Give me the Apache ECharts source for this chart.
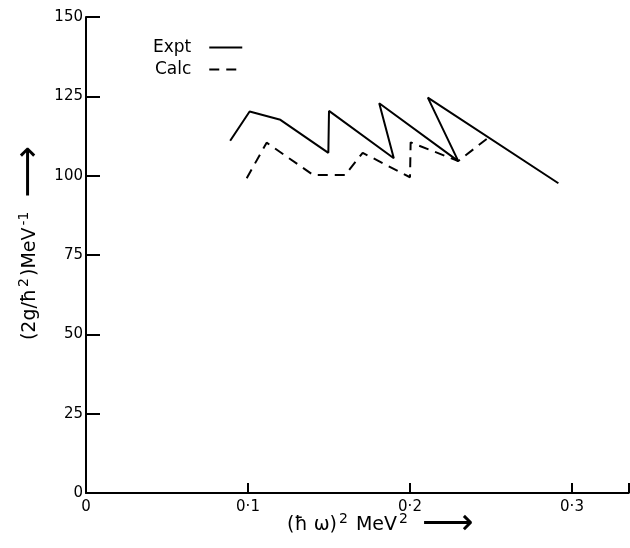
<!DOCTYPE html>
<html>
<head>
<meta charset="utf-8">
<script src="https://cdn.jsdelivr.net/npm/echarts@6/dist/echarts.min.js"></script>
<style>html,body{margin:0;padding:0;background:#fff;overflow:hidden}#c{width:630px;height:548px}</style>
</head>
<body>
<div id="c"></div>
<script>
var exptX = [0.089, 0.101, 0.120, 0.1496, 0.150, 0.190, 0.181, 0.2298, 0.211, 0.2916];
var exptY = [111.0, 120.2, 117.6, 107.2, 120.4, 105.5, 122.8, 104.6, 124.6, 97.6];
var calcX = [0.0992, 0.1115, 0.1403, 0.1599, 0.1708, 0.200, 0.2004, 0.2298, 0.2504];
var calcY = [99.2, 110.4, 100.2, 100.2, 107.2, 99.5, 110.5, 104.6, 112.8];
var xTickLabels = ['0', '0·1', '0·2', '0·3'];
var yTicks = [0, 25, 50, 75, 100, 125, 150];

function pairs(xs, ys) { return xs.map(function (x, i) { return [x, ys[i]]; }); }

var chart = echarts.init(document.getElementById('c'), null, {renderer: 'canvas'});
var font = 'DejaVu Sans';
var richTitle = {
  t: {fontFamily: font, fontSize: 19, color: '#000', lineHeight: 26},
  sup: {fontFamily: font, fontSize: 14, color: '#000', verticalAlign: 'top', lineHeight: 26, padding: [0, 2, 8, 2]},
  arr: {fontFamily: font, fontSize: 36, color: '#000', lineHeight: 26}
};
chart.setOption({
  animation: false,
  backgroundColor: '#fff',
  grid: {left: 86, top: 17, bottom: 55, right: 1.3, containLabel: false, outerBoundsMode: 'none'},
  legend: {
    orient: 'vertical', left: 148, top: 34, align: 'right',
    itemWidth: 33, itemHeight: 14, itemGap: 5,
    itemStyle: {opacity: 0},
    textStyle: {fontFamily: font, fontSize: 17, color: '#000', padding: [0, 13, 0, 0]},
    data: ['Expt', 'Calc']
  },
  xAxis: {
    type: 'value', min: 0, max: 0.335, interval: 0.1,
    axisLine: {lineStyle: {color: '#000', width: 2}},
    axisTick: {inside: true, length: 10, lineStyle: {color: '#000', width: 2}},
    splitLine: {show: false},
    showMaxLabel: false,
    axisLabel: {
      margin: 7, color: '#000', fontFamily: font, fontSize: 15,
      formatter: function (v) { var i = Math.round(v * 10); return Math.abs(v * 10 - i) < 1e-6 ? xTickLabels[i] : ''; }
    },
    name: '{t|(ħ ω)}{sup|2}{t| MeV}{sup|2}{t|  }{arr|⟶}', nameLocation: 'middle', nameGap: 19,
    nameMoveOverlap: false,
    nameTextStyle: {color: '#000', fontFamily: font, fontSize: 19, padding: [0, 0, 0, 46], rich: richTitle}
  },
  yAxis: {
    type: 'value', min: 0, max: 150, interval: 25,
    axisLine: {lineStyle: {color: '#000', width: 2}},
    axisTick: {inside: true, length: 14, lineStyle: {color: '#000', width: 2}},
    splitLine: {show: false},
    axisLabel: {margin: 3, color: '#000', fontFamily: font, fontSize: 15,
      formatter: function (v) { return yTicks.indexOf(v) >= 0 ? String(v) : ''; }},
    name: '{t|(2g/ħ}{sup|2}{t|)MeV}{sup|-1}{t|  }{arr|⟶}', nameLocation: 'middle', nameRotate: 90, nameGap: 43,
    nameMoveOverlap: false,
    nameTextStyle: {color: '#000', fontFamily: font, fontSize: 19, padding: [0, 0, 0, 24], rich: richTitle}
  },
  series: [
    {name: 'Expt', type: 'line', data: pairs(exptX, exptY), symbol: 'none',
     lineStyle: {color: '#000', width: 2}, itemStyle: {color: '#000'}},
    {name: 'Calc', type: 'line', data: pairs(calcX, calcY), symbol: 'none',
     lineStyle: {color: '#000', width: 2, type: [10, 7]}, itemStyle: {color: '#000'}}
  ]
});
</script>
</body>
</html>
